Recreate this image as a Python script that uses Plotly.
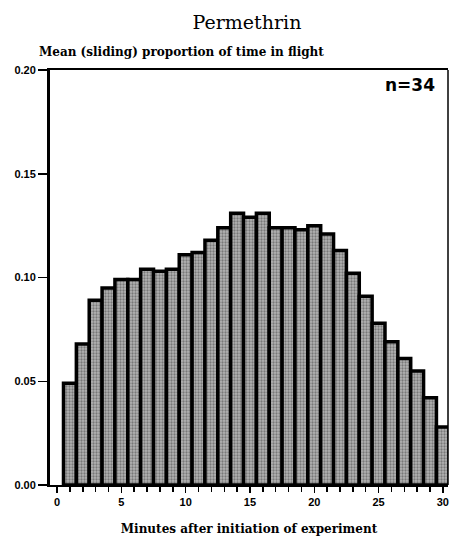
import plotly.graph_objects as go

minutes = list(range(1, 31))
mean_prop = [0.049, 0.068, 0.089, 0.095, 0.099, 0.099, 0.104, 0.103, 0.104, 0.111,
             0.112, 0.118, 0.124, 0.131, 0.129, 0.131, 0.124, 0.124, 0.123, 0.125,
             0.121, 0.113, 0.102, 0.091, 0.078, 0.069, 0.061, 0.055, 0.042, 0.028]
x_ticks = [0, 5, 10, 15, 20, 25, 30]
y_ticks = [0.0, 0.05, 0.10, 0.15, 0.20]

serif = "DejaVu Serif"
W, H = 451, 538
L, R, T, B = 50, 3, 70, 53
PW, PH = W - L - R, H - T - B

fig = go.Figure()
fig.add_trace(go.Bar(
    x=minutes, y=mean_prop, width=1.0,
    marker=dict(
        color="#a8a8a8",
        line=dict(color="black", width=3.5),
        pattern=dict(shape=".", fgcolor="#3c3c3c", bgcolor="#b4b4b4", size=3, solidity=0.45),
    ),
    hoverinfo="skip", showlegend=False,
))

fig.update_layout(
    width=W, height=H,
    margin=dict(l=L, r=R, t=T, b=B),
    paper_bgcolor="white", plot_bgcolor="white",
    bargap=0,
    title=dict(text="Permethrin", x=247 / W, xanchor="center", y=1 - 22 / H, yanchor="middle",
               font=dict(family=serif, size=19, color="black")),
    font=dict(family=serif, color="black"),
)
fig.update_xaxes(
    range=[-0.55, 30.4], tickvals=x_ticks, ticks="outside", ticklen=6, tickwidth=1.5,
    tickcolor="black", showgrid=False, zeroline=False,
    showline=True, linewidth=2, linecolor="black", mirror=True,
    minor=dict(dtick=1, tick0=0, ticks="outside", ticklen=5, tickwidth=1.5, tickcolor="black"),
    tickfont=dict(family="Liberation Sans", size=11, color="black", weight="bold"),
    title=dict(text="<b>Minutes after initiation of experiment</b>", standoff=17,
               font=dict(family=serif, size=12, color="black")),
)
fig.update_yaxes(
    range=[0, 0.2], tickvals=y_ticks, tickformat=".2f", ticks="outside", ticklen=9,
    tickwidth=1.5, tickcolor="black", showgrid=False, zeroline=False,
    showline=True, linewidth=3, linecolor="black",
    tickfont=dict(family="Liberation Sans", size=11, color="black", weight="bold"),
)
fig.add_shape(type="line", xref="paper", yref="paper", x0=1, x1=1, y0=0, y1=1,
              line=dict(color="black", width=1.5))
fig.add_annotation(text="<b>Mean (sliding) proportion of time in flight</b>", xref="paper", yref="paper",
                   x=(37 - L) / PW, y=1 + 18 / PH, xanchor="left", yanchor="middle",
                   showarrow=False, font=dict(family=serif, size=12, color="black"))
fig.add_annotation(text="<b>n=34</b>", xref="paper", yref="paper",
                   x=(437 - L) / PW, y=1 - 15 / PH, xanchor="right", yanchor="middle",
                   showarrow=False, font=dict(family="DejaVu Sans", size=17, color="black"))

fig.write_html("out.html", config={"displayModeBar": False, "staticPlot": True},
               post_script="document.body.style.margin='0';")
